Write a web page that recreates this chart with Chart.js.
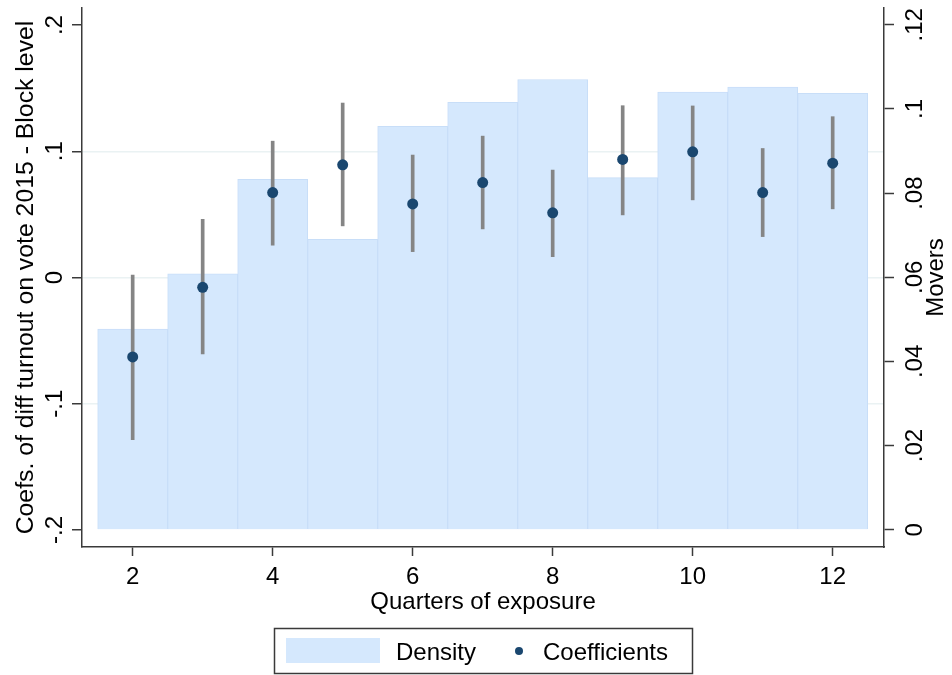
<!DOCTYPE html>
<html>
<head>
<meta charset="utf-8">
<script src="https://cdn.jsdelivr.net/npm/chart.js@4.4.1/dist/chart.umd.min.js"></script>
<style>
  html, body { margin: 0; padding: 0; background: #fff; }
  #wrap { width: 952px; height: 675px; }
</style>
</head>
<body>
<div id="wrap"><canvas id="c" width="952" height="675"></canvas></div>
<script>
// Quarters of exposure (x), share of movers (right axis), coefficients with 95% CI (left axis)
const quarters = [2, 3, 4, 5, 6, 7, 8, 9, 10, 11, 12];
const density  = [0.0477, 0.0608, 0.0833, 0.0690, 0.0959, 0.1016, 0.1070, 0.0837, 0.1040, 0.1052, 0.1037];
const coefs    = [-0.0629, -0.0078, 0.0673, 0.0893, 0.0583, 0.0752, 0.0512, 0.0935, 0.0996, 0.0673, 0.0906];
const ciLow    = [-0.1284, -0.0605, 0.0256, 0.0409, 0.0205, 0.0385, 0.0165, 0.0496, 0.0615, 0.0324, 0.0544];
const ciHigh   = [0.0020, 0.0460, 0.1080, 0.1382, 0.0970, 0.1120, 0.0851, 0.1361, 0.1359, 0.1022, 0.1274];

const xTicks     = [2, 4, 6, 8, 10, 12];
const leftTicks  = [-0.2, -0.1, 0, 0.1, 0.2];
const leftLabels = ['-.2', '-.1', '0', '.1', '.2'];
const rightTicks  = [0, 0.02, 0.04, 0.06, 0.08, 0.1, 0.12];
const rightLabels = ['0', '.02', '.04', '.06', '.08', '.1', '.12'];

const xTitle = 'Quarters of exposure';
const leftTitle = 'Coefs. of diff turnout on vote 2015 - Block level';
const rightTitle = 'Movers';
const legendLabels = ['Density', 'Coefficients'];

const FONT = '"Liberation Sans", Arial, sans-serif';
const AXIS = '#3a3a3a';
const BAR_FILL = '#d5e8fd';
const BAR_EDGE = '#c8def8';
const NAVY = '#1a476f';
const CI_GREY = '#858585';

function fixedTicks(values) {
  return scale => { scale.ticks = values.map(v => ({ value: v })); };
}

// Text, tick labels and the framed legend are painted after the chart
const annotate = {
  id: 'annotate',
  afterDraw(chart) {
    const ctx = chart.ctx;
    const xs = chart.scales.x, yl = chart.scales.yL, yr = chart.scales.yR;
    const area = chart.chartArea;
    ctx.save();
    ctx.fillStyle = '#000';
    ctx.font = '24px ' + FONT;

    // x tick labels
    ctx.textAlign = 'center';
    ctx.textBaseline = 'alphabetic';
    xTicks.forEach(v => ctx.fillText(String(v), xs.getPixelForValue(v), 584));
    // x title
    ctx.fillText(xTitle, (area.left + area.right) / 2, 609);

    // rotated left tick labels
    leftTicks.forEach((v, i) => {
      ctx.save();
      ctx.translate(62, yl.getPixelForValue(v));
      ctx.rotate(-Math.PI / 2);
      ctx.textAlign = 'center';
      ctx.fillText(leftLabels[i], 0, 0);
      ctx.restore();
    });
    // rotated right tick labels
    rightTicks.forEach((v, i) => {
      ctx.save();
      ctx.translate(922, yr.getPixelForValue(v));
      ctx.rotate(-Math.PI / 2);
      ctx.textAlign = 'center';
      ctx.fillText(rightLabels[i], 0, 0);
      ctx.restore();
    });
    // axis titles
    const midY = (area.top + area.bottom) / 2;
    ctx.save();
    ctx.font = '24.8px ' + FONT;
    ctx.translate(33, midY);
    ctx.rotate(-Math.PI / 2);
    ctx.textAlign = 'center';
    ctx.fillText(leftTitle, 0, 0);
    ctx.restore();
    ctx.save();
    ctx.translate(943, midY);
    ctx.rotate(-Math.PI / 2);
    ctx.textAlign = 'center';
    ctx.fillText(rightTitle, 0, 0);
    ctx.restore();

    // legend
    ctx.lineWidth = 1.5;
    ctx.strokeStyle = AXIS;
    ctx.fillStyle = '#fff';
    ctx.fillRect(274, 628, 419, 46);
    ctx.strokeRect(274.5, 628.5, 418, 45);
    ctx.fillStyle = BAR_FILL;
    ctx.fillRect(286, 638, 94, 25);
    ctx.fillStyle = NAVY;
    ctx.beginPath();
    ctx.arc(519, 651, 4, 0, Math.PI * 2);
    ctx.fill();
    ctx.fillStyle = '#000';
    ctx.textAlign = 'left';
    ctx.fillText(legendLabels[0], 396, 660);
    ctx.fillText(legendLabels[1], 543, 660);
    ctx.restore();
  }
};

new Chart(document.getElementById('c'), {
  type: 'bar',
  data: {
    datasets: [
      {
        type: 'scatter',
        label: legendLabels[1],
        data: quarters.map((q, i) => ({ x: q, y: coefs[i] })),
        yAxisID: 'yL',
        pointRadius: 5.5,
        pointBackgroundColor: NAVY,
        pointBorderColor: NAVY,
        pointBorderWidth: 0,
        order: 0
      },
      {
        type: 'bar',
        label: 'CI',
        data: quarters.map((q, i) => ({ x: q, y: [ciLow[i], ciHigh[i]] })),
        yAxisID: 'yL',
        backgroundColor: CI_GREY,
        borderWidth: 0,
        barThickness: 3,
        grouped: false,
        order: 1
      },
      {
        type: 'bar',
        label: legendLabels[0],
        data: quarters.map((q, i) => ({ x: q, y: density[i] })),
        yAxisID: 'yR',
        backgroundColor: BAR_FILL,
        borderColor: BAR_EDGE,
        borderWidth: 1,
        barPercentage: 1,
        categoryPercentage: 1,
        grouped: false,
        order: 2
      }
    ]
  },
  options: {
    responsive: false,
    animation: false,
    devicePixelRatio: 1,
    layout: { padding: { top: 8, left: 0, right: 0, bottom: 0 } },
    plugins: { legend: { display: false }, tooltip: { enabled: false } },
    scales: {
      x: {
        type: 'linear',
        offset: false,
        min: 1.276,
        max: 12.733,
        afterBuildTicks: fixedTicks(xTicks),
        afterFit: s => { s.height = 128; },
        ticks: { display: false },
        grid: { offset: false, drawOnChartArea: false, drawTicks: true, tickLength: 9, tickColor: AXIS, tickWidth: 1.5 },
        border: { display: true, color: AXIS, width: 1.5 }
      },
      yL: {
        type: 'linear',
        position: 'left',
        min: -0.2135,
        max: 0.2135,
        afterBuildTicks: fixedTicks(leftTicks),
        afterFit: s => { s.width = 82; },
        ticks: { display: false },
        grid: {
          drawOnChartArea: true,
          drawTicks: true,
          tickLength: 10,
          tickColor: AXIS,
          tickWidth: 1.5,
          lineWidth: 1.5,
          color: c => (Math.abs(c.tick.value) < 0.15 ? '#eaf2f3' : 'rgba(0,0,0,0)')
        },
        border: { display: true, color: AXIS, width: 1.5 }
      },
      yR: {
        type: 'linear',
        position: 'right',
        min: -0.0041,
        max: 0.1240,
        afterBuildTicks: fixedTicks(rightTicks),
        afterFit: s => { s.width = 68; },
        ticks: { display: false },
        grid: { drawOnChartArea: false, drawTicks: true, tickLength: 10, tickColor: AXIS, tickWidth: 1.5 },
        border: { display: true, color: AXIS, width: 1.5 }
      }
    }
  },
  plugins: [annotate]
});
</script>
</body>
</html>
